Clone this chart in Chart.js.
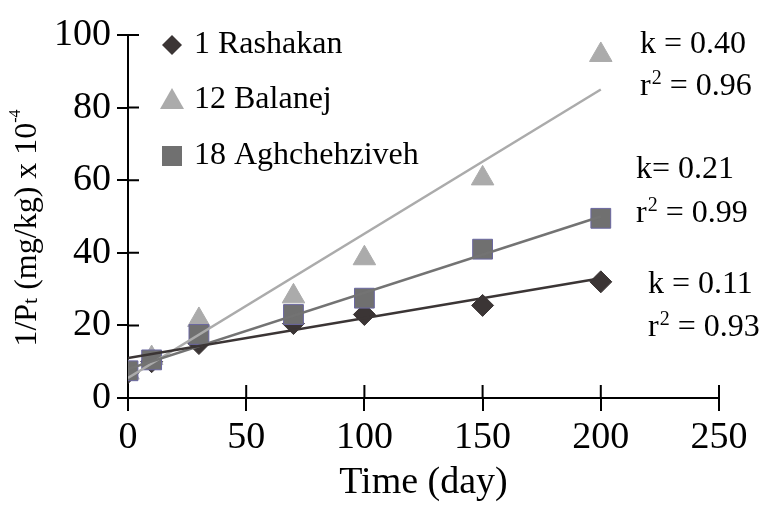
<!DOCTYPE html>
<html>
<head>
<meta charset="utf-8">
<script src="https://cdn.jsdelivr.net/npm/chart.js@4"></script>
<style>
  html, body { margin: 0; padding: 0; background: #fff; }
  #wrap { width: 764px; height: 506px; }
</style>
</head>
<body>
<div id="wrap"><canvas id="myChart" width="764" height="506"></canvas></div>
<script>
const FONT = "'Liberation Serif', 'Times New Roman', serif";

// days sampled
const days = [0, 10, 30, 70, 100, 150, 200];

// 1/Pt (mg/kg) x 10^-4
const rashakan = [7, 10, 15, 20.5, 23, 25.5, 32];
const balanej = [7, 11, 21.5, 28, 38.5, 60.5, 94.5];
const aghchehziveh = [7.5, 10.5, 17.5, 23, 27.5, 41, 49.5];

// fitted lines, end points
const fitDays = [0, 200];
const rashakanFit = [11, 33];
const balanejFit = [5.5, 85];
const aghchehzivehFit = [8, 50];

const xTicks = [0, 50, 100, 150, 200, 250];
const yTicks = [0, 20, 40, 60, 80, 100];

const notes = [
    { x: 640, y: 45, text: "k = 0.40" },
    { x: 640, y: 87, text: "r", sup: "2", rest: " = 0.96" },
    { x: 636, y: 170, text: "k= 0.21" },
    { x: 636, y: 214, text: "r", sup: "2", rest: " = 0.99" },
    { x: 648, y: 285, text: "k = 0.11" },
    { x: 648, y: 328, text: "r", sup: "2", rest: " = 0.93" },
];

const pts = (ys, xs) => ys.map((v, i) => ({ x: xs[i], y: v }));

const datasets = [
    { label: "1 Rashakan fit", data: pts(rashakanFit, fitDays), showLine: true, borderColor: "#3b3535", borderWidth: 2.5, pointRadius: 0, order: 1 },
    { label: "18 Aghchehziveh fit", data: pts(aghchehzivehFit, fitDays), showLine: true, borderColor: "#737373", borderWidth: 2.5, pointRadius: 0, order: 1 },
    { label: "12 Balanej fit", data: pts(balanejFit, fitDays), showLine: true, borderColor: "#ababab", borderWidth: 2.5, pointRadius: 0, order: 1 },
    { label: "18 Aghchehziveh", data: pts(aghchehziveh, days), pointStyle: "rect", pointRadius: 14, backgroundColor: "#707070", borderColor: "#6a67a0", borderWidth: 1, order: 2 },
    { label: "1 Rashakan", data: pts(rashakan, days), pointStyle: "rectRot", pointRadius: 11, backgroundColor: "#3b3535", borderColor: "#3b3535", borderWidth: 1, order: 3 },
    { label: "12 Balanej", data: pts(balanej, days), pointStyle: "triangle", pointRadius: 13, backgroundColor: "#ababab", borderColor: "#ababab", borderWidth: 1, order: 4 },
];

// * legend entries drawn inside the plot
const legendItems = [
    { text: "1 Rashakan", style: "diamond", r: 10, color: "#3b3535", y: 45 },
    { text: "12 Balanej", style: "triangle", r: 12, color: "#ababab", y: 100 },
    { text: "18 Aghchehziveh", style: "square", r: 10, color: "#707070", y: 156 },
];

function marker(c, style, x, y, r) {
    c.beginPath();
    if (style === "diamond") {
        c.moveTo(x, y - r); c.lineTo(x + r, y); c.lineTo(x, y + r); c.lineTo(x - r, y);
    } else if (style === "triangle") {
        c.moveTo(x, y - r); c.lineTo(x + r, y + r * 0.75); c.lineTo(x - r, y + r * 0.75);
    } else {
        c.rect(x - r, y - r, 2 * r, 2 * r);
    }
    c.closePath();
    c.fill();
}

const extras = {
    id: "extras",
    afterDraw(chart) {
        const c = chart.ctx;
        const xs = chart.scales.x, ys = chart.scales.y;
        c.save();
        // * ticks crossing into the plot
        c.strokeStyle = "#000";
        c.lineWidth = 2;
        c.beginPath();
        xTicks.forEach(v => {
            const px = xs.getPixelForValue(v);
            c.moveTo(px, ys.bottom);
            c.lineTo(px, ys.bottom - 13);
        });
        yTicks.forEach(v => {
            const py = ys.getPixelForValue(v);
            c.moveTo(xs.left, py);
            c.lineTo(xs.left + 11, py);
        });
        c.stroke();

        // * legend
        legendItems.forEach(it => {
            c.fillStyle = it.color;
            marker(c, it.style, 172, it.y, it.r);
            c.fillStyle = "#000";
            c.font = "32px " + FONT;
            c.textBaseline = "middle";
            c.textAlign = "left";
            c.fillText(it.text, 194, it.y);
        });

        // * k and r2 notes
        notes.forEach(n => {
            c.font = "32px " + FONT;
            c.textBaseline = "middle";
            c.fillStyle = "#000";
            c.fillText(n.text, n.x, n.y);
            if (n.sup) {
                let w = c.measureText(n.text).width + 1;
                c.font = "20px " + FONT;
                c.fillText(n.sup, n.x + w, n.y - 8);
                w += c.measureText(n.sup).width;
                c.font = "32px " + FONT;
                c.fillText(n.rest, n.x + w, n.y);
            }
        });

        // * y axis title with sub and superscript
        c.translate(28, 228);
        c.rotate(-Math.PI / 2);
        c.textAlign = "left";
        c.textBaseline = "middle";
        const parts = [
            { t: "1/P", f: 32, dy: 0 },
            { t: "t", f: 22, dy: 3 },
            { t: " (mg/kg) x 10", f: 32, dy: 0 },
            { t: "-4", f: 16, dy: -12 },
        ];
        let total = 0;
        parts.forEach(p => { c.font = p.f + "px " + FONT; total += c.measureText(p.t).width; });
        let x0 = -total / 2;
        parts.forEach(p => {
            c.font = p.f + "px " + FONT;
            c.fillText(p.t, x0, p.dy);
            x0 += c.measureText(p.t).width;
        });
        c.restore();
    },
};

const ctx = document.getElementById("myChart").getContext("2d");

const chart = new Chart(ctx, {
    type: "scatter",
    data: { datasets },
    plugins: [extras],
    options: {
        responsive: false,
        animation: false,
        layout: { padding: { top: 35, right: 45, left: 0, bottom: 0 } },
        plugins: { legend: { display: false }, tooltip: { enabled: false } },
        scales: {
            x: {
                min: 0, max: 250,
                afterBuildTicks: s => { s.ticks = xTicks.map(v => ({ value: v })); },
                afterFit: s => { s.height = 108; },
                border: { color: "#000", width: 2 },
                grid: { drawOnChartArea: false, tickLength: 13, color: "#000", lineWidth: 2 },
                ticks: { color: "#000", font: { family: FONT, size: 38 }, padding: 4, maxRotation: 0 },
                title: { display: true, text: "Time (day)", color: "#000", font: { family: FONT, size: 38 }, padding: 0 },
            },
            y: {
                min: 0, max: 100,
                afterBuildTicks: s => { s.ticks = yTicks.map(v => ({ value: v })); },
                afterFit: s => { s.width = 128; },
                border: { color: "#000", width: 2 },
                grid: { drawOnChartArea: false, tickLength: 11, color: "#000", lineWidth: 2 },
                ticks: { color: "#000", font: { family: FONT, size: 38 }, padding: 6 },
            },
        },
    },
});
</script>
</body>
</html>
